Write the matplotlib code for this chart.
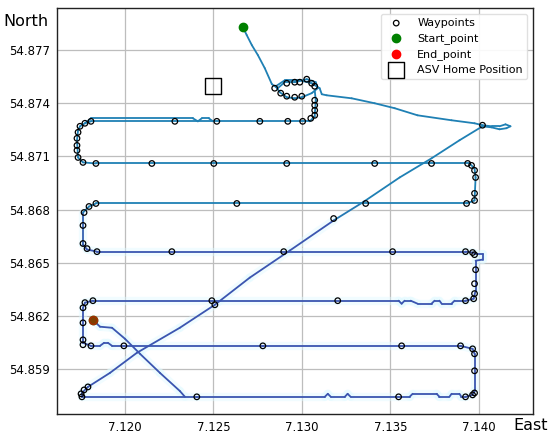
import numpy as np
import matplotlib
matplotlib.use("Agg")
import matplotlib.pyplot as plt
from matplotlib.collections import LineCollection
from matplotlib.colors import LinearSegmentedColormap, Normalize

# ---------------- data ----------------
track_lon = [7.12666, 7.12688, 7.12717, 7.12751, 7.12790, 7.12830,
             7.12863, 7.12903, 7.12959, 7.13027, 7.13078, 7.13089, 7.13055, 7.12999, 7.12959,
             7.12914, 7.12875, 7.12852, 7.12903, 7.12988, 7.13055, 7.13100, 7.13112, 7.13140,
             7.13281, 7.13411, 7.13524, 7.13653, 7.13845, 7.13975, 7.14020,
             7.14071, 7.14116, 7.14150, 7.14178, 7.14155, 7.14116, 7.14071, 7.14020,
             7.13890, 7.13732, 7.13552, 7.13343, 7.13179, 7.12931, 7.12705, 7.12508, 7.12310,
             7.12068, 7.11915, 7.11791, 7.11757, 7.11757,
             7.12406, 7.13129, 7.13146, 7.13163, 7.13242, 7.13258, 7.13275, 7.13608, 7.13625,
             7.13761, 7.13777, 7.13833, 7.13845, 7.13890, 7.13901, 7.13924, 7.13964, 7.13975,
             7.13975, 7.13964, 7.13896, 7.12779, 7.11927, 7.11904, 7.11882, 7.11859, 7.11808,
             7.11763, 7.11763, 7.11774, 7.11819, 7.13546, 7.13563, 7.13580, 7.13614, 7.13653,
             7.13732, 7.13749, 7.13777, 7.13789, 7.13845, 7.13862, 7.13924, 7.13970, 7.13981,
             7.13981, 7.14020, 7.14020, 7.13981, 7.13964, 7.13924,
             7.11842, 7.11786, 7.11763, 7.11763, 7.11797, 7.11836,
             7.13930, 7.13975, 7.13981, 7.13975, 7.13947,
             7.11836, 7.11763, 7.11735, 7.11729, 7.11735, 7.11746, 7.11774, 7.11808,
             7.13044, 7.13072, 7.13078, 7.13072]
track_lat = [54.87830, 54.87785, 54.87728, 54.87672, 54.87598, 54.87508,
             54.87485, 54.87519, 54.87519, 54.87536, 54.87519, 54.87485, 54.87457, 54.87434, 54.87428,
             54.87434, 54.87462, 54.87496, 54.87530, 54.87530, 54.87513, 54.87485, 54.87451, 54.87445,
             54.87428, 54.87400, 54.87372, 54.87332, 54.87304, 54.87287, 54.87276,
             54.87270, 54.87270, 54.87281, 54.87270, 54.87259, 54.87253, 54.87264, 54.87270,
             54.87191, 54.87089, 54.86981, 54.86840, 54.86738, 54.86568, 54.86415, 54.86262, 54.86132,
             54.85991, 54.85877, 54.85798, 54.85764, 54.85742,
             54.85742, 54.85742, 54.85759, 54.85742, 54.85742, 54.85759, 54.85742, 54.85742, 54.85759,
             54.85759, 54.85742, 54.85742, 54.85759, 54.85759, 54.85742, 54.85742, 54.85753, 54.85775,
             54.85985, 54.86013, 54.86030, 54.86030, 54.86030, 54.86047, 54.86047, 54.86030, 54.86030,
             54.86047, 54.86245, 54.86274, 54.86285, 54.86285, 54.86268, 54.86285, 54.86285, 54.86268,
             54.86268, 54.86285, 54.86285, 54.86268, 54.86268, 54.86285, 54.86285, 54.86296, 54.86342,
             54.86511, 54.86517, 54.86551, 54.86551, 54.86557, 54.86562,
             54.86562, 54.86574, 54.86602, 54.86783, 54.86817, 54.86834,
             54.86834, 54.86851, 54.86981, 54.87032, 54.87060,
             54.87060, 54.87066, 54.87094, 54.87191, 54.87247, 54.87270, 54.87287, 54.87298,
             54.87298, 54.87326, 54.87417, 54.87474]

upper_lon = [7.11774, 7.11808, 7.12384, 7.12412, 7.12434, 7.12474, 7.12497]
upper_lat = [54.87287, 54.87315, 54.87315, 54.87298, 54.87315, 54.87315, 54.87298]

end_lon = [7.12339, 7.12310, 7.12198, 7.12085, 7.12000, 7.11927, 7.11859, 7.11819]
end_lat = [54.85742, 54.85775, 54.85877, 54.85985, 54.86070, 54.86132, 54.86138, 54.86177]

wp_lon = [7.12846, 7.12880, 7.12914, 7.12959, 7.12988, 7.13027, 7.13055, 7.13072, 7.12914, 7.12959,
          7.12999, 7.13072, 7.13072, 7.13072, 7.13072, 7.13050, 7.13004, 7.12920, 7.12762, 7.12519,
          7.12282, 7.11808, 7.11774, 7.11746, 7.11735, 7.11729, 7.11729, 7.11729, 7.11735, 7.11763,
          7.11836, 7.12152, 7.12502, 7.12914, 7.13411, 7.13732, 7.13936, 7.13958, 7.13975, 7.13981,
          7.13975, 7.13975, 7.13930, 7.13360, 7.12632, 7.11836, 7.11797, 7.11769, 7.11763, 7.11763,
          7.11786, 7.11842, 7.12265, 7.12897, 7.13512, 7.13924, 7.13964, 7.13975, 7.13981, 7.13975,
          7.13975, 7.13970, 7.13924, 7.13202, 7.12491, 7.12508, 7.11819, 7.11774, 7.11763, 7.11763,
          7.11763, 7.11763, 7.11808, 7.11994, 7.12779, 7.13563, 7.13896, 7.13964, 7.13975, 7.13975,
          7.13975, 7.13964, 7.13924, 7.13546, 7.12406, 7.11791, 7.11769, 7.11752, 7.11757, 7.14020,
          7.13179]
wp_lat = [54.87485, 54.87457, 54.87513, 54.87519, 54.87519, 54.87536, 54.87513, 54.87496, 54.87440, 54.87434,
          54.87440, 54.87417, 54.87389, 54.87360, 54.87332, 54.87315, 54.87298, 54.87298, 54.87298, 54.87298,
          54.87298, 54.87298, 54.87287, 54.87270, 54.87236, 54.87202, 54.87162, 54.87134, 54.87094, 54.87066,
          54.87060, 54.87060, 54.87060, 54.87060, 54.87060, 54.87060, 54.87060, 54.87049, 54.87021, 54.86981,
          54.86891, 54.86851, 54.86834, 54.86834, 54.86834, 54.86834, 54.86817, 54.86783, 54.86710, 54.86608,
          54.86579, 54.86562, 54.86562, 54.86562, 54.86562, 54.86562, 54.86557, 54.86545, 54.86460, 54.86381,
          54.86325, 54.86296, 54.86285, 54.86285, 54.86285, 54.86262, 54.86285, 54.86274, 54.86245, 54.86160,
          54.86064, 54.86036, 54.86030, 54.86030, 54.86030, 54.86030, 54.86030, 54.86013, 54.85985, 54.85889,
          54.85764, 54.85753, 54.85742, 54.85742, 54.85742, 54.85798, 54.85781, 54.85759, 54.85742, 54.87276,
          54.86749]

start_pt = (7.12666, 54.87830)
end_pt = (7.11819, 54.86177)
home_pt = (7.12497, 54.87496)

x_ticks = [7.120, 7.125, 7.130, 7.135, 7.140]
y_ticks = [54.859, 54.862, 54.865, 54.868, 54.871, 54.874, 54.877]

# ---------------- figure ----------------
plt.rcParams['font.family'] = ['DejaVu Sans']
fig = plt.figure(figsize=(5.5, 4.38), dpi=100)
ax = fig.add_axes([0.1036, 0.0548, 0.8654, 0.9269])

cmap = LinearSegmentedColormap.from_list("track", ["#3b55b0", "#1f80b4"])
norm = Normalize(vmin=54.8665, vmax=54.8682, clip=True)


def segs(lon, lat):
    pts = np.column_stack([lon, lat])
    s = np.stack([pts[:-1], pts[1:]], axis=1)
    mid = (pts[:-1, 1] + pts[1:, 1]) / 2
    return s, mid


for lon, lat in [(track_lon, track_lat), (upper_lon, upper_lat), (end_lon, end_lat)]:
    s, mid = segs(lon, lat)
    glow_alpha = np.clip((54.8682 - mid) / 0.0012, 0, 1) * 0.45
    glow_cols = [(0.88, 0.98, 1.0, a) for a in glow_alpha]
    ax.add_collection(LineCollection(s, colors=glow_cols, linewidths=6, zorder=1,
                                     capstyle='round', joinstyle='round'))
    ax.add_collection(LineCollection(s, colors=cmap(norm(mid)), linewidths=1.3, zorder=2,
                                     capstyle='round', joinstyle='round'))

ax.scatter(wp_lon, wp_lat, s=16, facecolors='none', edgecolors='black', linewidths=0.9,
           zorder=4, label='Waypoints')
ax.scatter([start_pt[0]], [start_pt[1]], s=36, color='green', zorder=5, label='Start_point')
ax.scatter([end_pt[0]], [end_pt[1]], s=36, color='green', zorder=5)
ax.scatter([end_pt[0]], [end_pt[1]], s=36, color='red', alpha=0.5, zorder=6, label='End_point')
ax.scatter([home_pt[0]], [home_pt[1]], s=140, marker='s', facecolors='none',
           edgecolors='black', linewidths=1.0, zorder=5, label='ASV Home Position')

ax.set_xlim(7.11616, 7.14305)
ax.set_ylim(54.85645, 54.87938)
ax.set_xticks(x_ticks)
ax.set_xticklabels([f"{v:.3f}" for v in x_ticks])
ax.set_yticks(y_ticks)
ax.set_yticklabels([f"{v:.3f}" for v in y_ticks])
ax.tick_params(length=0, labelsize=8.5, pad=5)
ax.grid(True, color='#bdbdbd', linewidth=0.9)
ax.set_axisbelow(True)
for sp in ax.spines.values():
    sp.set_color('#222222')
    sp.set_linewidth(1.0)

leg = ax.legend(loc='upper right', fontsize=8, framealpha=0.9, edgecolor='#dddddd',
                borderpad=0.4, labelspacing=0.45, handletextpad=0.9)
for h in leg.legend_handles:
    h.set_alpha(1)

fig.text(3 / 550, 1 - 21 / 438, "North", fontsize=11.5, va='center', ha='left')
fig.text(513 / 550, 1 - 426 / 438, "East", fontsize=11.5, va='center', ha='left')

fig.savefig("out.png", dpi=100)
